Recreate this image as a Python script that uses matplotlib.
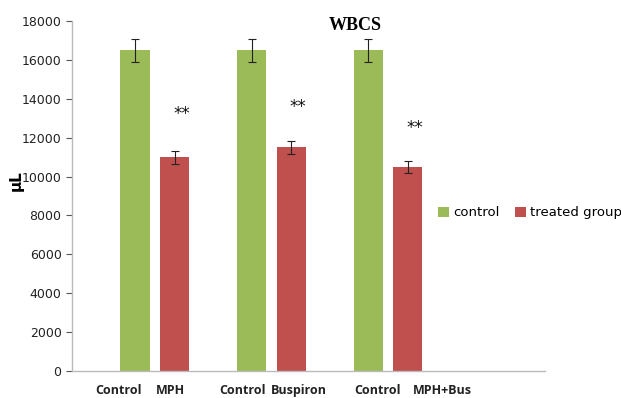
import numpy as np
import matplotlib.pyplot as plt

# WBC counts per group (control vs treated)
groups = ["MPH", "Buspiron", "MPH+Bus"]
control = [16500, 16500, 16500]
control_err = [600, 600, 600]
treated = [11000, 11500, 10500]
treated_err = [330, 350, 300]
stars_y = [13200, 13600, 12500]

fig = plt.figure(figsize=(6.21, 3.98), dpi=100)
ax = fig.add_axes([0.116, 0.068, 0.762, 0.879])

x = np.arange(len(groups))
off = 0.17
w = 0.25
green = "#9BBB59"
red = "#C0504D"

ax.bar(x - off, control, w, color=green, label="control", zorder=2)
ax.bar(x + off, treated, w, color=red, label="treated group", zorder=2)
ax.errorbar(x - off, control, yerr=control_err, fmt="none", ecolor="#222222",
            elinewidth=0.8, capsize=3, capthick=0.8, zorder=3)
ax.errorbar(x + off, treated, yerr=treated_err, fmt="none", ecolor="#222222",
            elinewidth=0.8, capsize=3, capthick=0.8, zorder=3)

for i in range(len(groups)):
    ax.text(x[i] + off + 0.06, stars_y[i], "**", ha="center", va="center",
            fontsize=12, color="#111111")

ax.set_xlim(-0.71, 3.35)
ax.set_ylim(0, 18000)
ax.set_yticks(np.arange(0, 18001, 2000))
ax.tick_params(axis="y", labelsize=9, colors="#555555", labelcolor="#222222",
               length=4, width=0.8)
ax.set_xticks([])
for s in ["top", "right"]:
    ax.spines[s].set_visible(False)
for s in ["left", "bottom"]:
    ax.spines[s].set_color("#BBBBBB")
    ax.spines[s].set_linewidth(1.0)

# category labels under each bar
lab_x = [-0.31, 0.13, 0.75, 1.24, 1.91, 2.47]
lab_t = ["Control", groups[0], "Control", groups[1], "Control", groups[2]]
for lx, lt in zip(lab_x, lab_t):
    ax.text(lx, -0.055, lt, transform=ax.get_xaxis_transform(), ha="center",
            va="center", fontsize=9, fontweight="bold", color="#222222",
            family="Open Sans")

ax.text(-0.118, 9800, "µL", transform=ax.get_yaxis_transform(), rotation=90,
        ha="center", va="center", fontsize=11, fontweight="bold")

fig.text(0.572, 0.935, "WBCS", ha="center", va="center", fontsize=13,
         fontweight="bold", family="Liberation Serif")

fig.legend(loc="center left", bbox_to_anchor=(0.706, 0.465), ncol=2,
           frameon=False, fontsize=9.5, handlelength=0.8, handleheight=0.8,
           handletextpad=0.3, columnspacing=1.2, borderpad=0, borderaxespad=0)

fig.savefig("out.png", dpi=100)
